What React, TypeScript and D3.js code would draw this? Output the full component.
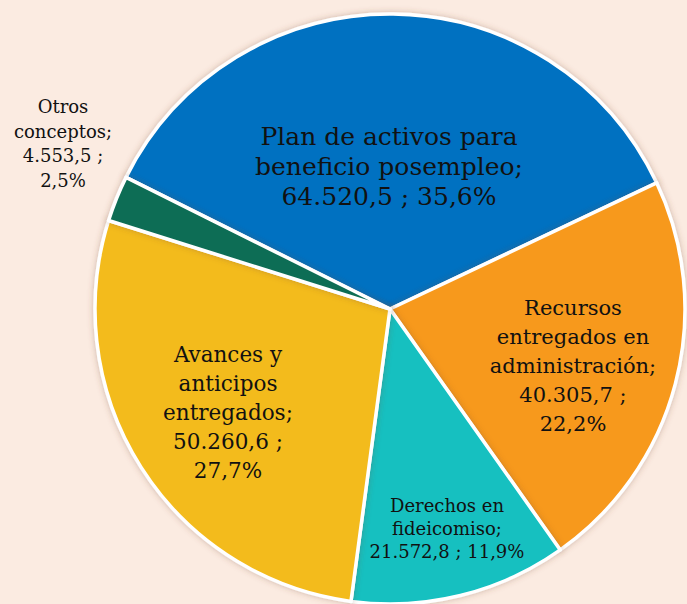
import React from 'react';
import * as d3 from 'd3';

// slices, clockwise from the top-left edge of the blue one
const categories = [
  'Plan de activos para beneficio posempleo',
  'Recursos entregados en administración',
  'Derechos en fideicomiso',
  'Avances y anticipos entregados',
  'Otros conceptos'
];
const values = [64520.5, 40305.7, 21572.8, 50260.6, 4553.5];
const percents = ['35,6%', '22,2%', '11,9%', '27,7%', '2,5%'];
const amounts = ['64.520,5', '40.305,7', '21.572,8', '50.260,6', '4.553,5'];
const colors = ['#0071C1', '#F7991F', '#14C0C0', '#F3BB1F', '#0E6D55'];

// how each label is broken into lines (text only)
const labelLines = [
  ['Plan de activos para', 'beneficio posempleo;', `${amounts[0]} ; ${percents[0]}`],
  ['Recursos', 'entregados en', 'administración;', `${amounts[1]} ;`, percents[1]],
  ['Derechos en', 'fideicomiso;', `${amounts[2]} ; ${percents[2]}`],
  ['Avances y', 'anticipos', 'entregados;', `${amounts[3]} ;`, percents[3]],
  ['Otros', 'conceptos;', `${amounts[4]} ;`, percents[4]]
];

const width = 687;
const height = 604;
const cx = 390;
const cy = 309;
const radius = 295;

// label placement: [x, first baseline, font size, line step]
const labelPos = [
  [389, 145, 25, 30],
  [573, 315, 21, 29],
  [447, 512, 18, 23],
  [228, 362, 21.5, 29],
  [-327, -196, 18, 24.5]
];

export default function App() {
  const start = (-63.5 * Math.PI) / 180;
  const pie = d3
    .pie<number>()
    .sort(null)
    .startAngle(start)
    .endAngle(start + Math.PI * 2);
  const arcs = pie(values);
  const arc = d3.arc<d3.PieArcDatum<number>>().innerRadius(0).outerRadius(radius);

  return (
    <svg
      width={width}
      height={height}
      style={{ position: 'absolute', left: 0, top: 0, display: 'block' }}
      fontFamily="'DejaVu Serif', serif"
    >
      <defs>
        <filter id="shadow" x="-10%" y="-10%" width="120%" height="120%">
          <feDropShadow dx="0" dy="0" stdDeviation="3" floodColor="#7a4a30" floodOpacity="0.35" />
        </filter>
      </defs>
      <rect width={width} height={height} fill="#FBEBE1" />
      <g transform={`translate(${cx},${cy})`}>
        {arcs.map((a, i) => (
          <path
            key={categories[i]}
            d={arc(a) || ''}
            fill={colors[i]}
            stroke="#fff"
            strokeWidth={3.5}
            strokeLinejoin="round"
            filter="url(#shadow)"
          />
        ))}
        {labelLines.map((lines, i) => {
          const [x, y, fs, step] = labelPos[i];
          const lx = i === 4 ? x : x - cx;
          const ly = i === 4 ? y : y - cy;
          return (
            <text key={i} x={lx} y={ly} fontSize={fs} fill="#111" textAnchor="middle">
              {lines.map((t, j) => (
                <tspan key={j} x={lx} y={ly + j * step}>
                  {t}
                </tspan>
              ))}
            </text>
          );
        })}
      </g>
    </svg>
  );
}
